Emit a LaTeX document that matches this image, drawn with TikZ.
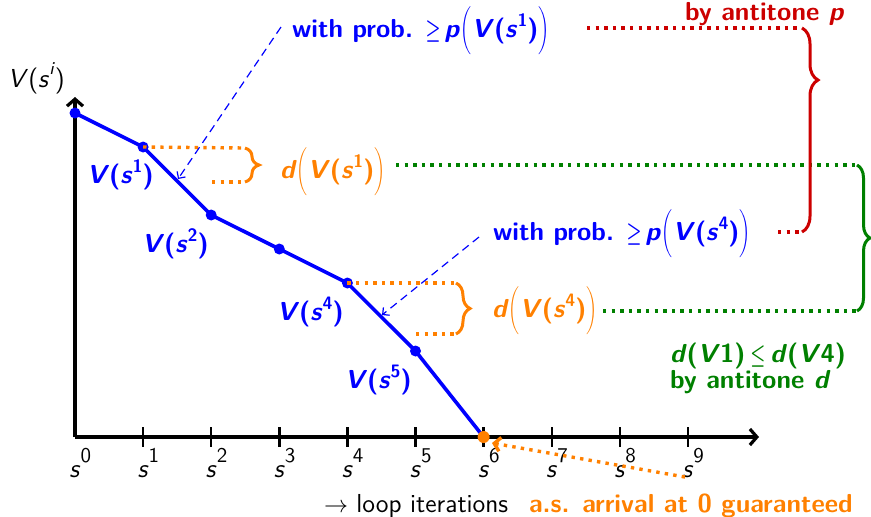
\documentclass[tikz,border=0pt]{standalone}
\usepackage{fontspec}
\usetikzlibrary{arrows.meta,decorations.pathreplacing}
\definecolor{myblue}{RGB}{0,0,255}
\definecolor{myorange}{RGB}{255,128,0}
\definecolor{mygreen}{RGB}{0,128,0}
\definecolor{myred}{RGB}{204,0,0}
\newcommand{\myup}[2]{\raisebox{#1}{\fontsize{9}{9}\selectfont #2}}
\newcommand{\Vs}[1]{\textit{V}(\textit{s}\myup{5.5pt}{#1})}
\newcommand{\biglp}{\scalebox{0.75}[1]{$\bigg($}}
\newcommand{\bigrp}{\scalebox{0.75}[1]{$\bigg)$}}
\newcommand{\mygeq}{\scalebox{0.7}[1]{$\geq$}}
\newcommand{\myleq}{\scalebox{0.7}[1]{$\leq$}}
\begin{document}
\begin{tikzpicture}[x=0.5pt,y=-0.5pt,
  every node/.style={inner sep=0pt,outer sep=0pt},
  txt/.style={font=\fontsize{13}{15}\selectfont\sffamily, anchor=base west},
  btxt/.style={font=\fontsize{13}{15}\selectfont\sffamily\bfseries\boldmath, anchor=base west},
  axis/.style={line width=1.6pt, -{Straight Barb[length=3.5pt,width=8pt]}},
  tickmark/.style={line width=1.2pt},
  curve/.style={myblue, line width=1.8pt, line join=round},
  vdot/.style={circle, fill=myblue, minimum size=5.5pt},
  dotline/.style={line width=1.7pt, dash pattern=on 1.7pt off 2.6pt},
  bracedeco/.style={decorate, decoration={brace, amplitude=#1}, line width=1.5pt},
  bdash/.style={myblue, line width=0.6pt, dash pattern=on 4pt off 2.6pt, -{Straight Barb[length=2.5pt,width=5pt]}}
]
\useasboundingbox (0,0) rectangle (871,516);

% axes
\coordinate (O) at (75,437);
\coordinate (ytop) at (75,97);
\coordinate (xend) at (759,437);
\draw[axis] (O) -- (ytop);
\draw[axis] (O) -- (xend);
\foreach \i in {1,...,9} \draw[tickmark] ({75+68.1*\i},427) -- ({75+68.1*\i},447);
\foreach \i in {0,...,9} \node[font=\fontsize{13}{15}\selectfont\sffamily, anchor=base] (s\i) at ({75+68.1*\i},477) {\textit{s}\rlap{\raisebox{7.5pt}{\fontsize{10.5}{10.5}\selectfont\i}}};
\node[txt] (ylab) at (8,87) {\textit{V}(\textit{s}\myup{6.5pt}{\textit{i}})};

% curve
\coordinate (p0) at (75,113);
\coordinate (p1) at (143.1,147);
\coordinate (p2) at (211.2,215);
\coordinate (p3) at (279.3,249);
\coordinate (p4) at (347.4,283);
\coordinate (p5) at (415.5,351);
\coordinate (p6) at (483.6,437);
\draw[curve] (p0) -- (p1) -- (p2) -- (p3) -- (p4) -- (p5) -- (p6);
\foreach \k in {0,...,5} \node[vdot] (d\k) at (p\k) {};
\node[circle, fill=myorange, minimum size=6pt] (d6) at (p6) {};

% value labels
\node[btxt, text=myblue] (v1) at (87,183) {\Vs{1}};
\node[btxt, text=myblue] (v2) at (142,252) {\Vs{2}};
\node[btxt, text=myblue] (v4) at (277,320) {\Vs{4}};
\node[btxt, text=myblue] (v5) at (345,388) {\Vs{5}};

% orange bracket at s1
\coordinate (b1t) at (245,148);
\coordinate (b1b) at (245,182);
\coordinate (l1s) at (212,182);
\draw[myorange, dotline] (p1) -- (b1t);
\draw[myorange, dotline] (l1s) -- (b1b);
\draw[myorange, bracedeco=7pt] (b1t) -- (b1b);
\node[btxt, text=myorange] (dl1) at (280,178) {\textit{d}\biglp\Vs{1}\bigrp};

% orange bracket at s4
\coordinate (b4t) at (456,283);
\coordinate (b4b) at (456,334);
\coordinate (l4s) at (416,334);
\draw[myorange, dotline] (p4) -- (b4t);
\draw[myorange, dotline] (l4s) -- (b4b);
\draw[myorange, bracedeco=7pt] (b4t) -- (b4b);
\node[btxt, text=myorange] (dl4) at (492,317) {\textit{d}\biglp\Vs{4}\bigrp};

% probability texts
\node[btxt, text=myblue] (wp1) at (292,37) {with prob. \mygeq\hspace{2pt}\textit{p}\biglp\Vs{1}\bigrp};
\node[btxt, text=myblue] (wp4) at (493,240) {with prob. \mygeq\hspace{2pt}\textit{p}\biglp\Vs{4}\bigrp};
\coordinate (a1s) at (281,27);
\coordinate (a1e) at (178,179);
\coordinate (a4s) at (479,237);
\coordinate (a4e) at (382,315);
\draw[bdash] (a1s) -- (a1e);
\draw[bdash] (a4s) -- (a4e);

% green bracket
\coordinate (g1s) at (396,165);
\coordinate (g1e) at (857,165);
\coordinate (g4s) at (603,311);
\coordinate (g4e) at (857,311);
\draw[mygreen, dotline] (g1s) -- (g1e);
\draw[mygreen, dotline] (g4s) -- (g4e);
\draw[mygreen, bracedeco=6.5pt] (g1e) -- (g4e);
\node[btxt, text=mygreen] (gt1) at (670,362) {\textit{d}(\textit{V}1)\hspace{2.5pt}\myleq\hspace{2.5pt}\textit{d}(\textit{V}4)};
\node[btxt, text=mygreen] (gt2) at (670,388) {by antitone \textit{d}};

% red bracket
\coordinate (r1s) at (587,28);
\coordinate (r1e) at (802,28);
\coordinate (r4s) at (778,232);
\coordinate (r4e) at (802,232);
\draw[myred, dotline] (r1s) -- (r1e);
\draw[myred, dotline] (r4s) -- (r4e);
\draw[myred, decorate, decoration={brace, amplitude=8pt, aspect=0.255}, line width=1.5pt] (r1e) -- (r4e);
\node[btxt, text=myred] (rt) at (685,20) {by antitone \textit{p}};

% arrival arrow
\coordinate (arr) at (685,477);
\coordinate (arrtip) at (492,443);
\draw[myorange, dotline, -{Straight Barb[length=3pt,width=7pt]}] (arr) -- (arrtip);

% bottom texts
\node[txt] (loop) at (324,512) {$\rightarrow$ loop iterations};
\node[btxt, text=myorange] (as) at (529,512) {a.s. arrival at 0 guaranteed};
\end{tikzpicture}
\end{document}
